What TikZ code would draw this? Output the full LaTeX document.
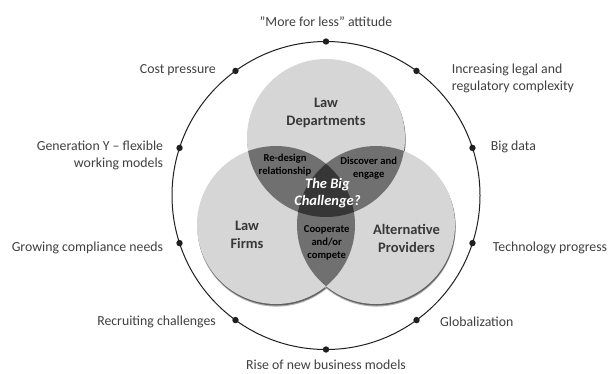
\documentclass[tikz,border=0pt]{standalone}
\usepackage{fontspec}
\setmainfont{Carlito}[Ligatures=ResetAll]
\usetikzlibrary{calc}
\definecolor{lbl}{HTML}{404040}
\definecolor{setlbl}{HTML}{383838}
\definecolor{disc}{HTML}{D6D6D6}
\definecolor{pair}{HTML}{707070}
\definecolor{core}{HTML}{363636}
\begin{document}
\begin{tikzpicture}[x=1pt,y=-1pt,
  driver/.style={font=\fontsize{13.8}{17.3}\selectfont, text=lbl, inner sep=0pt},
  setname/.style={font=\bfseries\fontsize{14.5}{18}\selectfont, text=setlbl, align=center, inner sep=0pt},
  overlap/.style={font=\bfseries\fontsize{10.6}{13.2}\selectfont, text=black, align=center, inner sep=0pt},
  corelbl/.style={font=\bfseries\itshape\fontsize{14.5}{17.4}\selectfont, text=white, align=center, inner sep=0pt},
  ring/.style={draw=black!88, line width=1pt},
  ringdot/.style={fill=black!88}]
\useasboundingbox (0,0) rectangle (610,373);
\fill[white] (0,0) rectangle (610,373);

% centres: outer ring and the three sets
\coordinate (O) at (326,195.5);
\coordinate (A) at (326,138);   % Law Departments
\coordinate (B) at (276,225);   % Law Firms
\coordinate (C) at (376,225);   % Alternative Providers
\def\R{79pt}

% soft drop shadows under the discs
\foreach \c in {A,B,C} {
  \fill[black!30] ($(\c)+(0.6pt,-2.6pt)$) circle[radius=\R];
  \fill[black!62] ($(\c)+(0.5pt,-1.5pt)$) circle[radius=\R];
}
% light discs
\foreach \c in {A,B,C} \fill[disc] (\c) circle[radius=\R];
% pairwise overlaps
\begin{scope}
  \clip (A) circle[radius=\R];
  \fill[pair] (B) circle[radius=\R];
  \fill[pair] (C) circle[radius=\R];
\end{scope}
\begin{scope}
  \clip (B) circle[radius=\R];
  \fill[pair] (C) circle[radius=\R];
\end{scope}
% triple overlap
\begin{scope}
  \clip (A) circle[radius=\R];
  \clip (B) circle[radius=\R];
  \fill[core] (C) circle[radius=\R];
\end{scope}

% outer ring with ten driver points
\draw[ring] (O) circle[radius=154pt];
\foreach \a in {90,126,...,414}
  \fill[ringdot] ($(O)+(\a:154pt)$) circle[radius=3.2pt];

% set names
\node[setname] (dep) at (326,112.5) {Law\\Departments};
\node[setname] (firms) at (247,234.5) {Law\\Firms};
\node[setname] (alt) at (406.5,238.5) {Alternative\\Providers};

% overlap labels
\node[overlap] (redesign) at (285,165) {Re-design\\relationship};
\node[overlap] (discover) at (368.7,168.3) {Discover and\\engage};
\node[overlap] (coop) at (326.7,243) {Cooperate\\and/or\\compete};
\node[corelbl] (big) at (327.4,193) {The Big\\Challenge?};

% drivers around the ring
\node[driver, anchor=center] (more) at (326,22) {"More for less" attitude};
\node[driver, anchor=east] (cost) at (216,70) {Cost pressure};
\node[driver, anchor=west, align=left] (legal) at (451.7,78.5) {Increasing legal and\\regulatory complexity};
\node[driver, anchor=east, align=right] (geny) at (163.3,155.5) {Generation Y – flexible\\working models};
\node[driver, anchor=west] (bigdata) at (490.7,146.7) {Big data};
\node[driver, anchor=east] (compl) at (163.3,248.3) {Growing compliance needs};
\node[driver, anchor=west] (tech) at (492.7,248) {Technology progress};
\node[driver, anchor=east] (recr) at (216,322.3) {Recruiting challenges};
\node[driver, anchor=west] (glob) at (440,322) {Globalization};
\node[driver, anchor=center] (rise) at (326,364.5) {Rise of new business models};
\end{tikzpicture}
\end{document}
